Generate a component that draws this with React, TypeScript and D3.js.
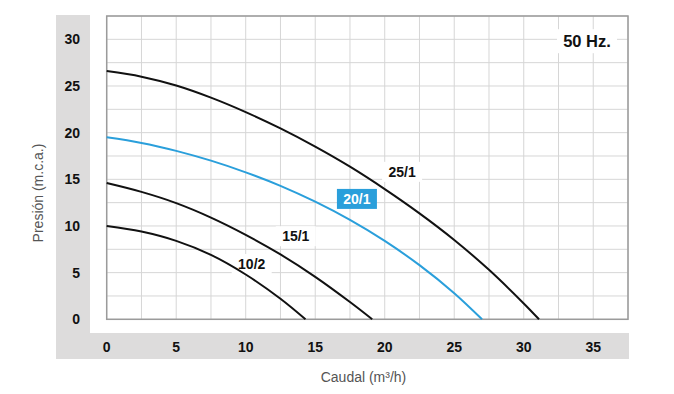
import React from 'react';
import * as d3 from 'd3';

// pump curves, caudal (m3/h) vs presión (m.c.a.)
const flow251 = [0, 2.5, 5, 7.5, 10, 12.5, 15, 17.5, 20, 22.5, 25, 27.5, 30, 31.1];
const head251 = [26.6, 26.0, 25.05, 23.75, 22.2, 20.45, 18.5, 16.35, 13.95, 11.35, 8.5, 5.3, 1.7, 0];
const flow201 = [0, 2.5, 5, 7.5, 10, 12.5, 15, 17.5, 20, 22.5, 25, 27];
const head201 = [19.5, 18.9, 18.05, 17.0, 15.75, 14.3, 12.6, 10.65, 8.4, 5.8, 2.8, 0];
const flow151 = [0, 2.5, 5, 7.5, 10, 12.5, 15, 17.5, 19.1];
const head151 = [14.6, 13.65, 12.45, 10.9, 9.05, 6.95, 4.55, 1.85, 0];
const flow102 = [0, 2.5, 5, 7.5, 10, 12.5, 14.3];
const head102 = [10.0, 9.4, 8.4, 6.9, 4.8, 2.2, 0];

const xTicks = [0, 5, 10, 15, 20, 25, 30, 35];
const yTicks = [0, 5, 10, 15, 20, 25, 30];

const seriesNames = ['25/1', '20/1', '15/1', '10/2'];
const labelFlow = [21.25, 18.0, 13.6, 10.43];
const labelHead = [15.8, 12.9, 8.9, 5.93];

const BLUE = '#2a9fdb';
const FONT = "'Liberation Sans', Arial, Helvetica, sans-serif";

const App: React.FC = () => {
  const x = d3.scaleLinear().domain([0, 37.5]).range([106.7, 628]);
  const y = d3.scaleLinear().domain([0, 32.5]).range([319.3, 16]);

  const grid = d3.range(0, 37.5 + 0.01, 2.5);
  const gridY = d3.range(0, 32.5 + 0.01, 2.5);

  const line = d3
    .line<[number, number]>()
    .x(d => x(d[0]))
    .y(d => y(d[1]))
    .curve(d3.curveCatmullRom.alpha(0.5));

  const series = [
    { name: '25/1', pts: flow251.map((f, i) => [f, head251[i]] as [number, number]), color: '#111' },
    { name: '20/1', pts: flow201.map((f, i) => [f, head201[i]] as [number, number]), color: BLUE },
    { name: '15/1', pts: flow151.map((f, i) => [f, head151[i]] as [number, number]), color: '#111' },
    { name: '10/2', pts: flow102.map((f, i) => [f, head102[i]] as [number, number]), color: '#111' },
  ];

  const [x0, x1] = x.range();
  const [y0, y1] = y.range();

  return (
    <svg
      width={674}
      height={394}
      style={{ position: 'absolute', left: 0, top: 0, background: '#fff' }}
      fontFamily={FONT}
    >
      {/* grey bands behind the tick labels */}
      <rect x={56} y={15} width={34} height={344} fill="#dddcdc" />
      <rect x={56} y={333} width={573} height={26} fill="#dddcdc" />

      {/* grid */}
      {grid.map(v => (
        <line key={'gx' + v} x1={x(v)} x2={x(v)} y1={y1} y2={y0} stroke="#d6d6d6" strokeWidth={1} />
      ))}
      {gridY.map(v => (
        <line key={'gy' + v} x1={x0} x2={x1} y1={y(v)} y2={y(v)} stroke="#d6d6d6" strokeWidth={1} />
      ))}
      <rect x={x0} y={y1} width={x1 - x0} height={y0 - y1} fill="none" stroke="#9b9b9b" strokeWidth={1.5} />

      {/* label backgrounds hide the grid only */}
      {seriesNames.map((n, i) => (
        <rect
          key={'bg' + n}
          x={x(labelFlow[i]) - 20}
          y={y(labelHead[i]) - 10}
          width={40}
          height={20}
          fill={n === '20/1' ? BLUE : '#fff'}
        />
      ))}
      <rect x={x(34.55) - 30} y={y(29.8) - 12} width={60} height={24} fill="#fff" />

      {/* curves */}
      {series.map(s => (
        <path key={s.name} d={line(s.pts) || ''} fill="none" stroke={s.color} strokeWidth={2} />
      ))}

      {/* curve labels */}
      {seriesNames.map((n, i) => (
        <text
          key={'lab' + n}
          x={x(labelFlow[i])}
          y={y(labelHead[i]) + 5}
          textAnchor="middle"
          fontSize={14}
          fontWeight="bold"
          fill={n === '20/1' ? '#fff' : '#111'}
        >
          {n}
        </text>
      ))}

      {/* 50 Hz. */}
      <text x={x(34.55)} y={y(29.8) + 6} textAnchor="middle" fontSize={16.5} fontWeight="bold" fill="#111">
        50 Hz.
      </text>

      {/* ticks */}
      {yTicks.map(v => (
        <text key={'ty' + v} x={80} y={y(v) + 5} textAnchor="end" fontSize={14} fontWeight="bold" fill="#111">
          {v}
        </text>
      ))}
      {xTicks.map(v => (
        <text key={'tx' + v} x={x(v)} y={351.7} textAnchor="middle" fontSize={14} fontWeight="bold" fill="#111">
          {v}
        </text>
      ))}

      {/* axis titles */}
      <text x={363.5} y={381.5} textAnchor="middle" fontSize={14} fill="#555">
        Caudal (m³/h)
      </text>
      <text
        transform="translate(42.5,193) rotate(-90)"
        textAnchor="middle"
        fontSize={14}
        fill="#555"
      >
        Presión (m.c.a.)
      </text>
    </svg>
  );
};

export default App;
